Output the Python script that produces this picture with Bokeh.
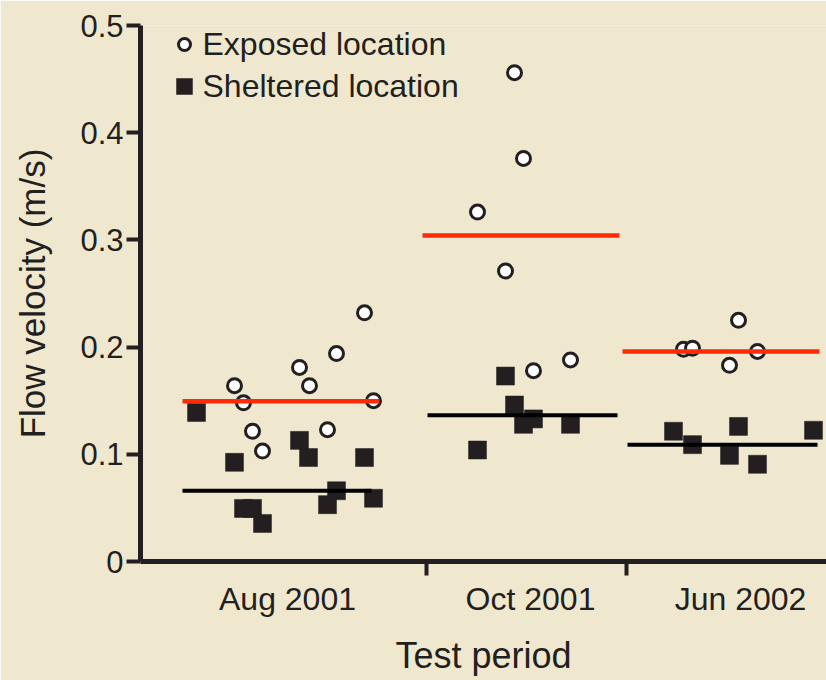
from bokeh.plotting import figure
from bokeh.models import FixedTicker, Range1d
from bokeh.core.properties import value
from bokeh.embed import file_html
from bokeh.resources import INLINE

# ---------------- data ----------------
periods = ["Aug 2001", "Oct 2001", "Jun 2002"]
period_centers = [1.47, 3.90, 6.00]
period_bounds = [2.86, 4.86]

# exposed location (open circles): jittered x position, flow velocity (m/s)
exposed_x = [2.24, 1.96, 1.59, 1.69, 0.94, 1.03, 2.33, 1.12, 1.87, 1.22,
             3.74, 3.83, 3.37, 3.65, 4.30, 3.93,
             5.98, 5.43, 5.52, 6.17, 5.89]
exposed_v = [0.232, 0.194, 0.181, 0.164, 0.164, 0.148, 0.150, 0.1215, 0.123, 0.103,
             0.456, 0.376, 0.326, 0.271, 0.188, 0.178,
             0.225, 0.198, 0.199, 0.196, 0.183]

# sheltered location (filled squares)
sheltered_x = [0.56, 0.94, 1.59, 1.68, 2.24, 1.96, 1.87, 2.33, 1.03, 1.12, 1.22,
               3.65, 3.74, 3.83, 3.93, 4.30, 3.37,
               5.98, 5.33, 5.52, 5.89, 6.17, 6.73]
sheltered_v = [0.139, 0.0925, 0.113, 0.097, 0.097, 0.066, 0.053, 0.059, 0.0495, 0.0495, 0.0355,
               0.173, 0.146, 0.128, 0.133, 0.128, 0.104,
               0.126, 0.1215, 0.109, 0.099, 0.0907, 0.1224]

# mean lines
exposed_mean = [0.1495, 0.304, 0.196]
exposed_x0 = [0.42, 2.82, 4.82]
exposed_x1 = [2.39, 4.79, 6.79]
sheltered_mean = [0.066, 0.1365, 0.109]
sheltered_x0 = [0.42, 2.87, 4.87]
sheltered_x1 = [2.31, 4.77, 6.77]

y_ticks = [0, 0.1, 0.2, 0.3, 0.4, 0.5]
y_tick_labels = ["0", "0.1", "0.2", "0.3", "0.4", "0.5"]

legend_labels = ["Exposed location", "Sheltered location"]

# ---------------- styling ----------------
BG = "#F0E8CE"
INK = "#231F20"
RED = "#FF2B06"
FONT = "Liberation Sans"

p = figure(width=826, height=680, output_backend="svg", toolbar_location=None,
           x_range=Range1d(0, 6.86), y_range=Range1d(0, 0.5),
           min_border_left=140, min_border_right=0, min_border_top=25,
           min_border_bottom=119)
p.background_fill_color = BG
p.border_fill_color = BG
p.outline_line_color = None
p.xgrid.visible = False
p.ygrid.visible = False

# y axis
ya = p.yaxis[0]
ya.ticker = FixedTicker(ticks=y_ticks)
ya.major_label_overrides = {t: l for t, l in zip(y_ticks, y_tick_labels)}
ya.axis_label = "Flow velocity (m/s)"
ya.axis_label_text_font = FONT
ya.axis_label_text_font_size = "35px"
ya.axis_label_text_font_style = "normal"
ya.axis_label_text_color = INK
ya.axis_label_standoff = 25
ya.major_label_text_font = FONT
ya.major_label_text_font_size = "31px"
ya.major_label_text_color = INK
ya.major_label_standoff = 3
ya.axis_line_width = 5
ya.axis_line_color = INK
ya.major_tick_line_width = 4
ya.major_tick_line_color = INK
ya.major_tick_out = 14
ya.major_tick_in = 0
ya.minor_tick_line_color = None

# x axis
xa = p.xaxis[0]
xa.ticker = FixedTicker(ticks=period_centers, minor_ticks=period_bounds)
xa.major_label_overrides = {c: l for c, l in zip(period_centers, periods)}
xa.axis_label = "Test period"
xa.axis_label_text_font = FONT
xa.axis_label_text_font_size = "36px"
xa.axis_label_text_font_style = "normal"
xa.axis_label_text_color = INK
xa.axis_label_standoff = 15
xa.major_label_text_font = FONT
xa.major_label_text_font_size = "32px"
xa.major_label_text_color = INK
xa.major_label_standoff = 5
xa.axis_line_width = 5
xa.axis_line_color = INK
xa.major_tick_line_color = None
xa.major_tick_out = 0
xa.major_tick_in = 0
xa.minor_tick_line_color = INK
xa.minor_tick_line_width = 4
xa.minor_tick_out = 14
xa.minor_tick_in = 0

# points
p.scatter(sheltered_x, sheltered_v, marker="square", size=18,
          fill_color=INK, line_color=INK, line_width=0.5)
p.scatter(exposed_x, exposed_v, marker="circle", size=14,
          fill_color="white", line_color=INK, line_width=3)

# mean lines
p.segment(x0=exposed_x0, x1=exposed_x1, y0=exposed_mean, y1=exposed_mean,
          line_color=RED, line_width=4.5)
p.segment(x0=sheltered_x0, x1=sheltered_x1, y0=sheltered_mean, y1=sheltered_mean,
          line_color="black", line_width=4)

# manual legend (top-left)
p.scatter([0.44], [0.4823], marker="circle", size=12, fill_color="white",
          line_color=INK, line_width=3)
p.scatter([0.44], [0.4431], marker="square", size=16, fill_color=INK,
          line_color=INK, line_width=0.5)
p.text(x=[0.62, 0.62], y=[0.4823, 0.4431], text=legend_labels,
       text_font=value(FONT), text_font_size="32px", text_color=INK,
       text_baseline="middle", text_align="left")

open("out.html", "w").write(file_html(p, INLINE))
